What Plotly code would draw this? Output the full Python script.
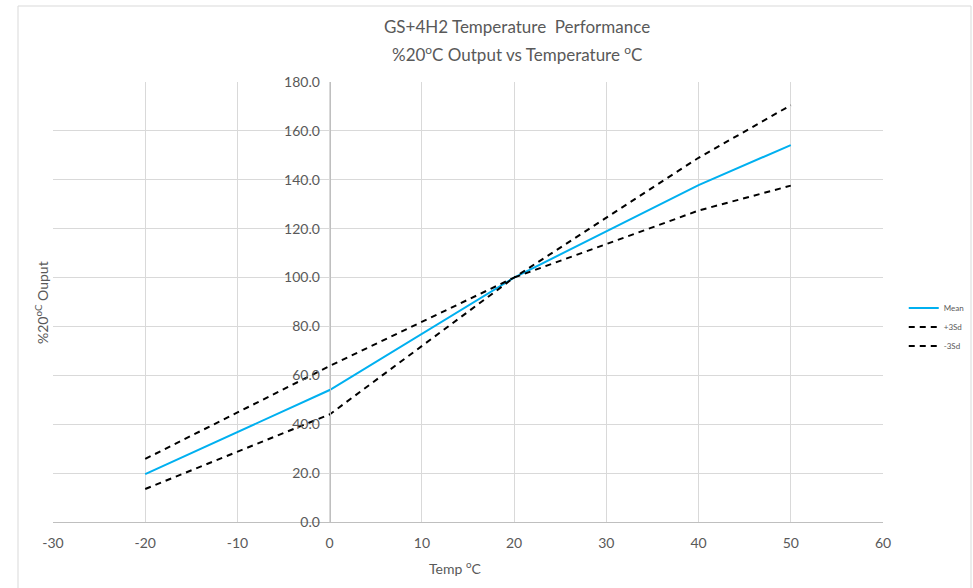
import plotly.graph_objects as go

temps = [-20, 0, 20, 40, 50]
mean_vals = [19.6, 54.0, 100.0, 137.8, 154.2]
plus3sd = [25.8, 63.8, 100.0, 149.0, 170.5]
minus3sd = [13.5, 44.0, 100.0, 127.4, 137.6]

x_tick_vals = [-30, -20, -10, 0, 10, 20, 30, 40, 50, 60]
x_tick_text = ["-30", "-20", "-10", "0", "10", "20", "30", "40", "50", "60"]

FONT = "Lato"
GREY = "#595959"

fig = go.Figure()
fig.add_trace(go.Scatter(x=temps, y=mean_vals, mode="lines", name="Mean",
                         line=dict(color="#00B0F0", width=2)))
fig.add_trace(go.Scatter(x=temps, y=plus3sd, mode="lines", name="+3Sd",
                         line=dict(color="black", width=2, dash="6px,5px")))
fig.add_trace(go.Scatter(x=temps, y=minus3sd, mode="lines", name="-3Sd",
                         line=dict(color="black", width=2, dash="6px,5px")))

fig.update_layout(
    width=973, height=588,
    margin=dict(l=53, r=90, t=82, b=66, autoexpand=False),
    paper_bgcolor="white", plot_bgcolor="white",
    font=dict(family=FONT, color=GREY, size=14),
    title=dict(text="GS+4H2 Temperature  Performance",
               x=517 / 973, xanchor="center", y=1 - 27 / 588, yanchor="middle",
               font=dict(family=FONT, size=17, color=GREY)),
    xaxis=dict(range=[-30, 60], tickvals=x_tick_vals, ticktext=x_tick_text,
               showgrid=True, automargin=False,
               gridcolor="#D9D9D9", gridwidth=1, zeroline=False,
               showline=True, linecolor="#BFBFBF", linewidth=1,
               ticks="", ticklabelstandoff=8,
               tickfont=dict(size=14, color=GREY)),
    yaxis=dict(range=[0, 180], dtick=20, tick0=0, showgrid=True, automargin=False,
               gridcolor="#D9D9D9", gridwidth=1, zeroline=False,
               showline=True, linecolor="#BFBFBF", linewidth=1,
               anchor="free", position=1/3, tickformat=".1f", ticks="",
               ticklabelstandoff=7,
               tickfont=dict(size=14, color=GREY)),
    legend=dict(x=1.025, y=(522 - 327) / 440, xanchor="left", yanchor="middle",
                font=dict(size=8, color=GREY), bgcolor="rgba(0,0,0,0)",
                itemwidth=30, tracegroupgap=0),
    showlegend=True,
)

# second title line
fig.add_annotation(text="%20<sup>o</sup>C Output vs Temperature <sup>o</sup>C",
                   xref="paper", yref="paper",
                   x=(517 - 53) / 830, y=(522 - 54) / 440,
                   xanchor="center", yanchor="middle", showarrow=False,
                   font=dict(size=17, color=GREY, family=FONT))

# x-axis title
fig.add_annotation(text="Temp <sup>o</sup>C", xref="paper", yref="paper",
                   x=(455 - 53) / 830, y=(522 - 567) / 440,
                   xanchor="center", yanchor="middle", showarrow=False,
                   font=dict(size=14, color=GREY, family=FONT))

# y-axis title placed at the left of the chart (Excel style)
fig.add_annotation(text="%20<sup>oC</sup> Ouput", xref="paper", yref="paper",
                   x=(41 - 53) / 830, y=(522 - 303) / 440,
                   xanchor="center", yanchor="middle",
                   textangle=-90, showarrow=False,
                   font=dict(size=14, color=GREY, family=FONT))

# chart border
fig.add_shape(type="rect", xref="paper", yref="paper",
              x0=(18 - 53) / 830, x1=(971 - 53) / 830,
              y0=(522 - 620) / 440, y1=(522 - 6) / 440,
              line=dict(color="#D9D9D9", width=1), fillcolor="rgba(0,0,0,0)",
              layer="below")

fig.write_html("out.html", config={"displayModeBar": False},
               post_script="document.body.style.margin='0';")
